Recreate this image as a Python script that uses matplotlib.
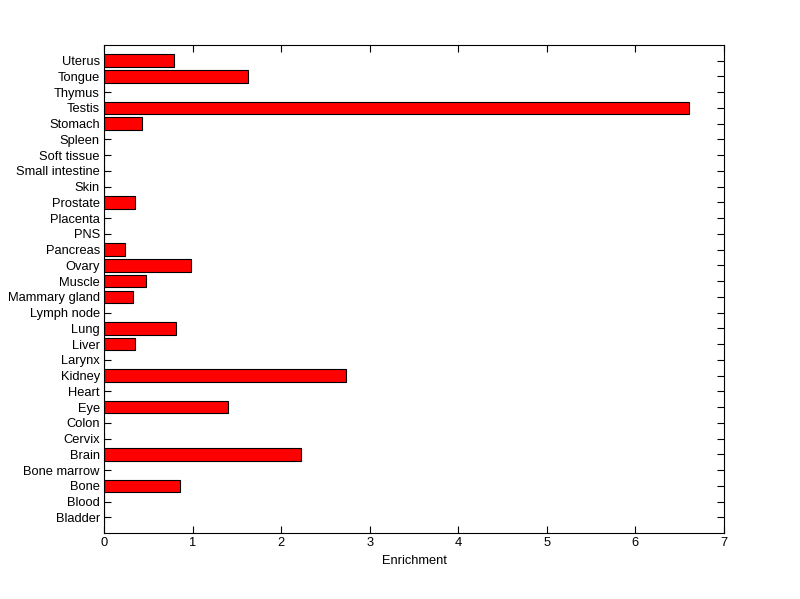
import matplotlib
matplotlib.use('Agg')
import matplotlib.pyplot as plt

tissues = ['Bladder', 'Blood', 'Bone', 'Bone marrow', 'Brain', 'Cervix', 'Colon',
           'Eye', 'Heart', 'Kidney', 'Larynx', 'Liver', 'Lung', 'Lymph node',
           'Mammary gland', 'Muscle', 'Ovary', 'Pancreas', 'PNS', 'Placenta',
           'Prostate', 'Skin', 'Small intestine', 'Soft tissue', 'Spleen',
           'Stomach', 'Testis', 'Thymus', 'Tongue', 'Uterus']
enrichment = [0, 0, 0.86, 0, 2.22, 0, 0,
              1.40, 0, 2.73, 0, 0.35, 0.81, 0,
              0.33, 0.47, 0.98, 0.24, 0, 0,
              0.35, 0, 0, 0, 0,
              0.43, 6.60, 0, 1.63, 0.79]

plt.rcParams['font.family'] = ['Liberation Sans', 'DejaVu Sans']
plt.rcParams['font.size'] = 9.3

fig = plt.figure(figsize=(8, 5.99), dpi=100)
ax = fig.add_axes([0.13, 0.11, 0.775, 0.815])

pos = list(range(1, len(tissues) + 1))
ax.barh(pos, enrichment, height=0.8, color='#ff0000', edgecolor='black', linewidth=0.8)
ax.set_axisbelow(True)

ax.set_xlim(0, 7)
ax.set_ylim(0, 31)
ax.set_yticks(pos)
ax.set_yticklabels(tissues)
ax.set_xticks(range(0, 8))
ax.set_xlabel('Enrichment', labelpad=4)
ax.tick_params(direction='in', length=5, width=0.8, top=True, right=True, pad=3)
for s in ax.spines.values():
    s.set_linewidth(0.8)
    s.set_zorder(3)

plt.savefig('out.png', dpi=100)
